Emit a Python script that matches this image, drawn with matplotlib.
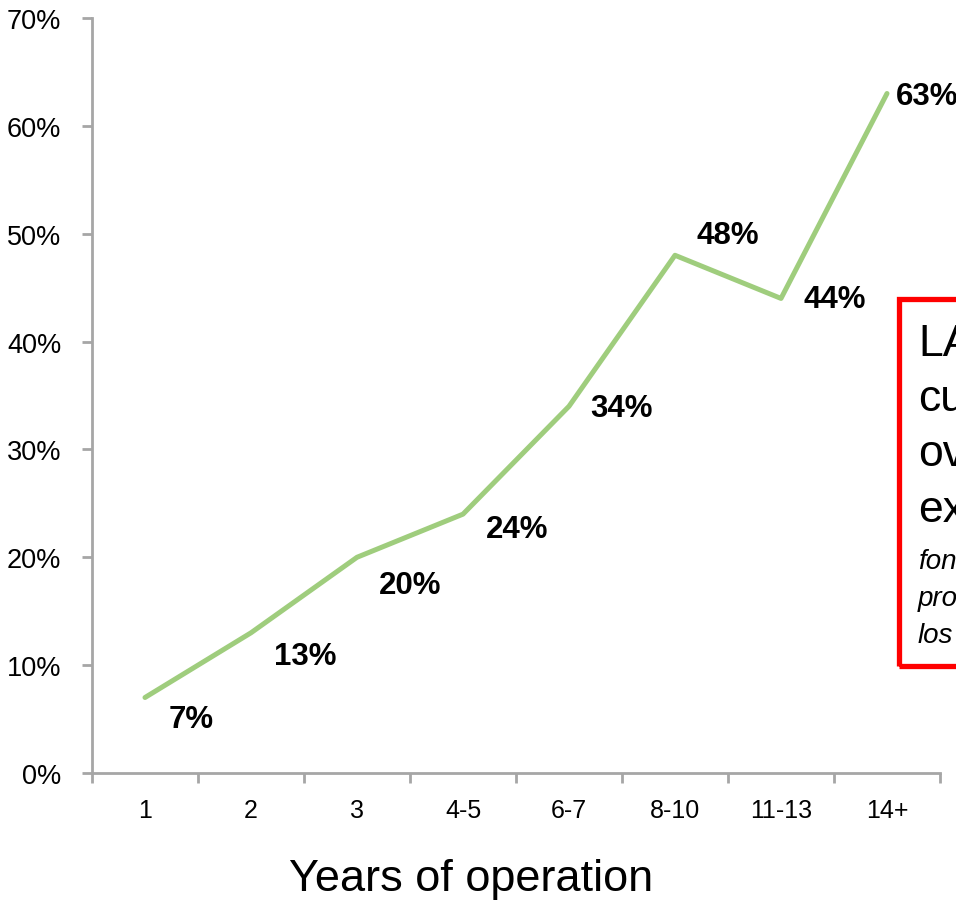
import numpy as np
import matplotlib.pyplot as plt
from matplotlib.patches import Rectangle

categories = ["1", "2", "3", "4-5", "6-7", "8-10", "11-13", "14+"]
values = [7, 13, 20, 24, 34, 48, 44, 63]
yticks = [0, 10, 20, 30, 40, 50, 60, 70]
# label offsets in pixels (dx, dy)
label_offsets = [(46, -21), (54, -23), (53, -28), (54, -15), (53, -2), (53, 20), (54, -1), (40, -2)]
box_lines = ["LA", "cu", "ov", "ex"]
box_notes = ["fon", "pro", "los"]

plt.rcParams['font.family'] = ['Liberation Sans', 'DejaVu Sans']
axis_gray = '#a6a6a6'
green = '#9fcd7d'

fig = plt.figure(figsize=(9.56, 9.04), dpi=100)
ax = fig.add_axes([92/956, 1-774/904, (940-92)/956, (774-19)/904])

x = np.arange(len(categories))
ax.plot(x, values, color=green, lw=3.6, solid_capstyle='round', solid_joinstyle='round')
for xi, v, (dx, dy) in zip(x, values, label_offsets):
    ax.annotate("%d%%" % v, (xi, v), xytext=(dx, dy), textcoords='offset pixels',
                ha='center', va='center', fontsize=22.5, fontweight='bold',
                annotation_clip=False)

ax.set_xlim(-0.5, len(categories) - 0.5)
ax.set_ylim(0, 70)
ax.set_yticks(yticks)
ax.set_yticklabels(["%d%%" % t for t in yticks])
ax.set_xticks(x)
ax.set_xticklabels(categories)
ax.set_xticks(np.arange(len(categories) + 1) - 0.5, minor=True)
ax.tick_params(axis='x', which='major', length=0, pad=18, labelsize=18)
ax.tick_params(axis='x', which='minor', length=7, width=2, color=axis_gray)
ax.tick_params(axis='y', length=7, width=2, color=axis_gray, pad=15, labelsize=19.5)
for s in ['top', 'right']:
    ax.spines[s].set_visible(False)
for s in ['left', 'bottom']:
    ax.spines[s].set_color(axis_gray)
    ax.spines[s].set_linewidth(2)

fig.text(471/956, 1-880/904, "Years of operation", ha='center', va='center', fontsize=32.5)

# red callout box (cut off at the right edge)
fig.patches.append(Rectangle((899/956, 1-667/904), 0.2, (667-300)/904, transform=fig.transFigure,
                             fill=False, edgecolor='#ff0000', lw=3.8, clip_on=False))
for i, t in enumerate(box_lines):
    fig.text(918/956, 1-(345 + 55*i)/904, t, ha='left', va='center', fontsize=32)
for i, t in enumerate(box_notes):
    fig.text(918/956, 1-(562 + 37*i)/904, t, ha='left', va='center', fontsize=20, style='italic')

fig.savefig("out.png", dpi=100)
